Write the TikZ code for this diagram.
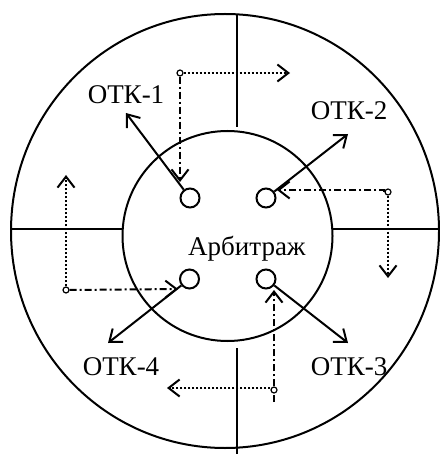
\documentclass[tikz,border=0pt]{standalone}
\usepackage{fontspec}
\setmainfont{Liberation Serif}
\usetikzlibrary{arrows.meta}
\begin{document}
\begin{tikzpicture}[x=1pt,y=-1pt,
  thick line/.style={line width=2pt},
  port/.style={circle,draw,line width=2pt,minimum size=19pt,inner sep=0pt},
  junction/.style={circle,draw,line width=1.2pt,minimum size=6pt,inner sep=0pt},
  label/.style={font=\fontsize{27}{30}\selectfont,inner sep=0pt},
  tip/.style={-{Straight Barb[length=11pt,width=17pt,line width=2pt]}},
  solidarrow/.style={thick line,tip},
  dashdot/.style={line width=2pt,dash pattern=on 7pt off 3pt on 2pt off 3pt},
  dashdotarrow/.style={dashdot,tip},
  dottedarrow/.style={line width=2.2pt,tip,dash pattern=on 2pt off 2pt}]
\useasboundingbox (0,0) rectangle (439,454);
% rings
\draw[line width=2pt] (225,231) ellipse [x radius=214, y radius=217];
\draw[thick line] (227.5,236) circle [radius=105];
% dividers
\draw[thick line] (11,229) -- (122.7,229);
\draw[thick line] (332.3,229) -- (439,229);
\draw[thick line] (237,14) -- (237,127);
\draw[thick line] (237,348) -- (237,454);
% ports
\node[port] (p1) at (190,198) {};
\node[port] (p2) at (266,198) {};
\node[port] (p3) at (189.5,279) {};
\node[port] (p4) at (266,279) {};
% labels
\node[label] (l1) at (126,95) {ОТК-1};
\node[label] (l2) at (349,111) {ОТК-2};
\node[label] (l3) at (349,367) {ОТК-3};
\node[label] (l4) at (121,367) {ОТК-4};
\node[label,anchor=west] (arb) at (188,249) {Арбитраж};
% solid arrows
\coordinate (t1) at (126,113);
\coordinate (t2) at (348,134);
\coordinate (t3) at (108,343);
\coordinate (t4) at (348,343);
\draw[solidarrow] (p1) -- (t1);
\draw[solidarrow] (p2) -- (t2);
\draw[solidarrow] (p3) -- (t3);
\draw[solidarrow] (p4) -- (t4);
% junctions
\node[junction] (c1) at (180,73) {};
\node[junction] (c2) at (388,192) {};
\node[junction] (c3) at (66,290) {};
\node[junction] (c4) at (274,390) {};
% top
\coordinate (d1) at (290,73);
\coordinate (e1) at (180,182);
\draw[dottedarrow] (c1.east) -- (d1);
\draw[dashdotarrow] (c1.south) -- (e1);
% right
\coordinate (d2) at (388,278);
\coordinate (e2) at (277,190);
\draw[dottedarrow] (c2.south) -- (d2);
\draw[dashdotarrow] (c2.west) -- (e2 -| c2.west) -- (e2);
% left
\coordinate (d3) at (66,175);
\coordinate (e3) at (178,289);
\draw[dottedarrow] (c3.north) -- (d3);
\draw[dashdotarrow] (c3.east) -- (e3);
% bottom
\coordinate (d4) at (167,388);
\coordinate (e4) at (274,290);
\coordinate (s4) at (274,402);
\draw[dottedarrow] (c4.west |- d4) -- (d4);
\draw[dashdot] (s4) -- (c4.south);
\draw[dashdotarrow] (c4.north) -- (e4);
\end{tikzpicture}
\end{document}
